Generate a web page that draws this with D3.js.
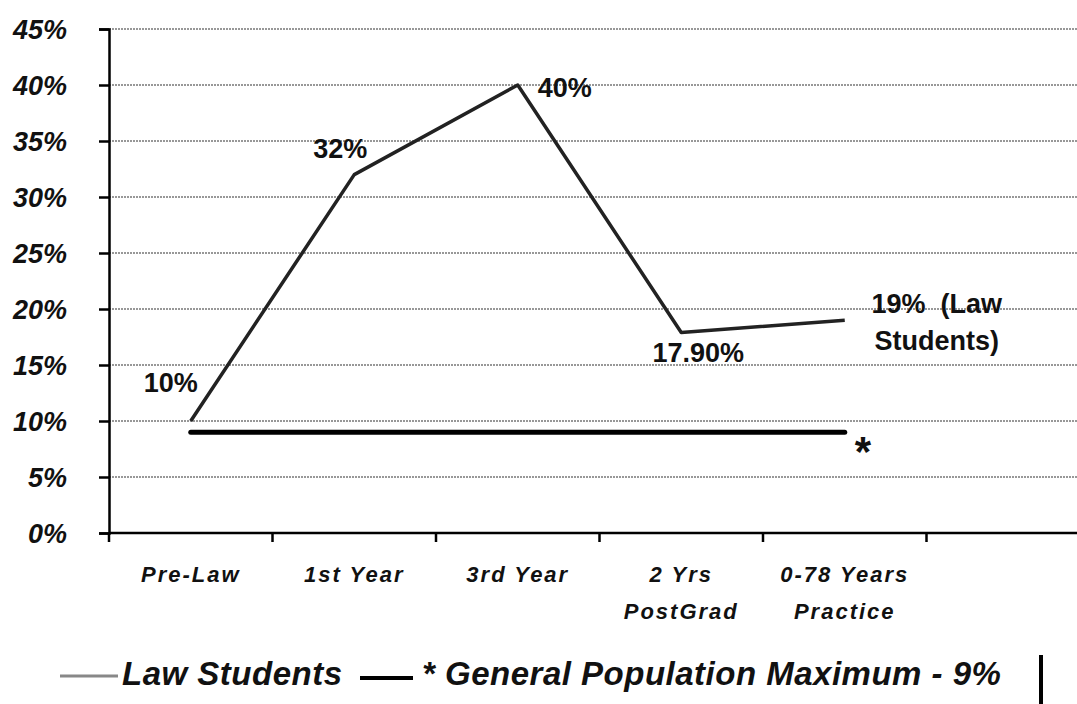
<!DOCTYPE html>
<html lang="en">
<head>
<meta charset="utf-8">
<title>Law Students vs General Population</title>
<script src="https://cdn.jsdelivr.net/npm/d3@7/dist/d3.min.js"></script>
<style>
  body { margin: 0; background: #fff; }
  svg text { font-family: "Liberation Sans", Arial, sans-serif; fill: #111; }
</style>
</head>
<body>
<script>
// data
var categories = ["Pre-Law", "1st Year", "3rd Year", "2 Yrs|PostGrad", "0-78 Years|Practice", ""];
var lawStudents = [10, 32, 40, 17.9, 19];
var pointLabels = ["10%", "32%", "40%", "17.90%", "19%  (Law|Students)"];
var generalPop = 9;
var yTicks = [0, 5, 10, 15, 20, 25, 30, 35, 40, 45];

var w = 1077, h = 704;
var padLeft = 109, padTop = 29, axisY = 533;

var svg = d3.select("body").append("svg")
  .attr("width", w)
  .attr("height", h);

var x = d3.scaleBand().domain(categories).range([padLeft, 1090]);
var y = d3.scaleLinear().domain([0, 45]).range([axisY, padTop]);
var cx = function(c) { return x(c) + x.bandwidth() / 2; };

// gridlines
svg.append("g")
  .selectAll("line")
  .data(yTicks.filter(function(d) { return d > 0; }))
  .enter().append("line")
  .attr("x1", padLeft).attr("x2", w)
  .attr("y1", function(d) { return y(d); })
  .attr("y2", function(d) { return y(d); })
  .attr("stroke", "#333")
  .attr("stroke-width", 1.2)
  .attr("stroke-dasharray", "2,1");

// y axis
var yAxis = d3.axisLeft(y).tickValues(yTicks).tickSize(10).tickFormat(function(d) { return d + "%"; });
var gy = svg.append("g").attr("transform", "translate(" + padLeft + ",0)").call(yAxis);
gy.select(".domain").attr("stroke", "#000").attr("stroke-width", 2.5);
gy.selectAll(".tick line").attr("stroke", "#000").attr("stroke-width", 2.5);
gy.selectAll(".tick text")
  .attr("x", -42)
  .attr("dy", "0.36em")
  .style("font-size", "27px")
  .style("font-weight", "bold")
  .style("font-style", "italic");

// x axis
svg.append("line")
  .attr("x1", padLeft).attr("x2", w)
  .attr("y1", axisY).attr("y2", axisY)
  .attr("stroke", "#000").attr("stroke-width", 2.5);
svg.append("g")
  .selectAll("line")
  .data(categories)
  .enter().append("line")
  .attr("x1", function(d) { return x(d); })
  .attr("x2", function(d) { return x(d); })
  .attr("y1", axisY).attr("y2", axisY + 9)
  .attr("stroke", "#000").attr("stroke-width", 2.5);

var xl = svg.append("g").selectAll("text")
  .data(categories)
  .enter().append("text")
  .attr("x", cx)
  .attr("y", 582)
  .attr("text-anchor", "middle")
  .style("font-size", "22px")
  .style("font-weight", "bold")
  .style("font-style", "italic")
  .style("letter-spacing", "2px");
xl.each(function(d) {
  var parts = d.split("|");
  var t = d3.select(this);
  parts.forEach(function(p, i) {
    t.append("tspan").attr("x", cx(d)).attr("dy", i === 0 ? 0 : 37).text(p);
  });
});

// general population line
svg.append("line")
  .attr("x1", cx(categories[0]))
  .attr("x2", cx(categories[4]))
  .attr("y1", y(generalPop))
  .attr("y2", y(generalPop))
  .attr("stroke", "#000")
  .attr("stroke-width", 5)
  .attr("stroke-linecap", "round");
svg.append("text")
  .attr("x", cx(categories[4]) + 10)
  .attr("y", y(generalPop) + 34)
  .style("font-size", "42px")
  .style("font-weight", "bold")
  .text("*");

// law students line
var line = d3.line()
  .x(function(d, i) { return cx(categories[i]); })
  .y(function(d) { return y(d); });
svg.append("path")
  .datum(lawStudents)
  .attr("d", line)
  .attr("fill", "none")
  .attr("stroke", "#222")
  .attr("stroke-width", 3.5)
  .attr("stroke-linejoin", "round");

// point labels (offsets from each point)
var labelOff = [[-20, -29], [-14, -17], [47, 12], [17, 29], [92, -7]];
svg.append("g").selectAll("text")
  .data(lawStudents)
  .enter().append("text")
  .attr("text-anchor", "middle")
  .style("font-size", "27px")
  .style("font-weight", "bold")
  .each(function(d, i) {
    var px = cx(categories[i]) + labelOff[i][0];
    var py = y(d) + labelOff[i][1];
    var t = d3.select(this).attr("x", px).attr("y", py);
    pointLabels[i].split("|").forEach(function(p, j) {
      t.append("tspan").attr("x", px).attr("dy", j === 0 ? 0 : 37)
        .style("white-space", "pre").text(p);
    });
  });

// legend
var lg = svg.append("g");
lg.append("line").attr("x1", 60).attr("x2", 118).attr("y1", 676).attr("y2", 676)
  .attr("stroke", "#888").attr("stroke-width", 3);
lg.append("text").attr("x", 122).attr("y", 685)
  .style("font-size", "33px").style("font-weight", "bold").style("font-style", "italic")
  .style("letter-spacing", "0.5px")
  .text("Law Students");
lg.append("line").attr("x1", 360).attr("x2", 413).attr("y1", 678).attr("y2", 678)
  .attr("stroke", "#000").attr("stroke-width", 4);
lg.append("text").attr("x", 422).attr("y", 685)
  .style("font-size", "33px").style("font-weight", "bold").style("font-style", "italic")
  .style("letter-spacing", "0.5px")
  .text("* General Population Maximum - 9%");
lg.append("line").attr("x1", 1041).attr("x2", 1041).attr("y1", 655).attr("y2", 704)
  .attr("stroke", "#000").attr("stroke-width", 4);
</script>
</body>
</html>
